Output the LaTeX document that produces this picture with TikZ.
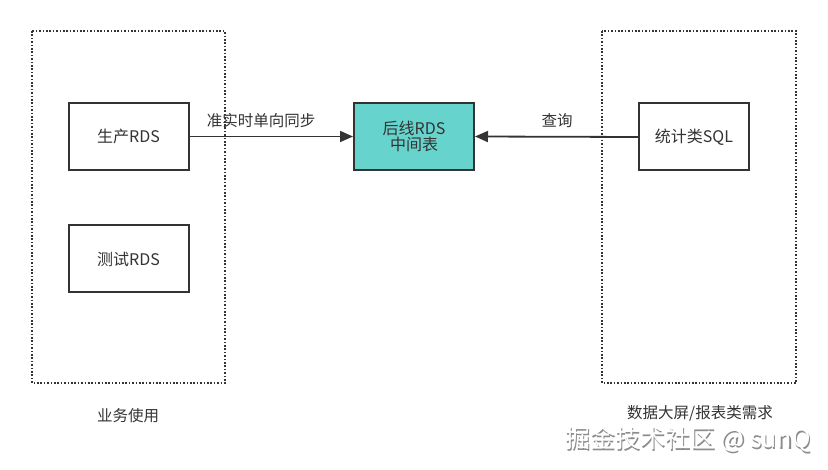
\documentclass[tikz,border=0pt]{standalone}
\usepackage{fontspec}
\setmainfont{Noto Sans CJK SC}
\usetikzlibrary{arrows.meta}
\definecolor{txt}{HTML}{333333}
\definecolor{teal}{HTML}{67D3CD}
\begin{document}
\begin{tikzpicture}[x=1pt,y=-1pt,
  box/.style={draw=txt,line width=2pt,minimum width=120pt,minimum height=67pt,inner sep=0pt,font=\fontsize{16}{19}\selectfont,text=txt,align=center},
  group/.style={draw=txt,line width=1.6pt,dash pattern=on 1.6pt off 1.8pt},
  lab/.style={font=\fontsize{15.5}{18}\selectfont,text=txt},
  conn/.style={draw=txt,line width=1.8pt,-{Triangle[length=13pt,width=11pt]}}]
\useasboundingbox (0,0) rectangle (828,470);
\fill[white] (0,0) rectangle (828,470);
\draw[group] (32,31) rectangle (225,383);
\draw[group] (602,31) rectangle (796,383);
\node[box] (prod) at (128.5,136.5) {生产RDS};
\node[box] (test) at (128.5,259) {测试RDS};
\node[box,fill=teal] (mid) at (414,136.5) {后线RDS\\[-3pt]中间表};
\node[box,minimum width=110pt] (sql) at (694,137) {统计类SQL};
\draw[conn] (prod.east) -- (mid.west);
\draw[conn] (sql.west) -- (mid.east);
\node[lab] (l1) at (261,121) {准实时单向同步};
\node[lab] (l2) at (557,121) {查询};
\node[lab] (g1) at (128,416) {业务使用};
\node[lab] (g2) at (700,413) {数据大屏/报表类需求};
\node[font=\fontsize{25}{27}\selectfont,text=black!45] (wm0) at (689.2,440.8) {掘金技术社区 @ sunQ};
\node[font=\fontsize{25}{27}\selectfont,text=white] (wm) at (688,439.5) {掘金技术社区 @ sunQ};
\end{tikzpicture}
\end{document}
